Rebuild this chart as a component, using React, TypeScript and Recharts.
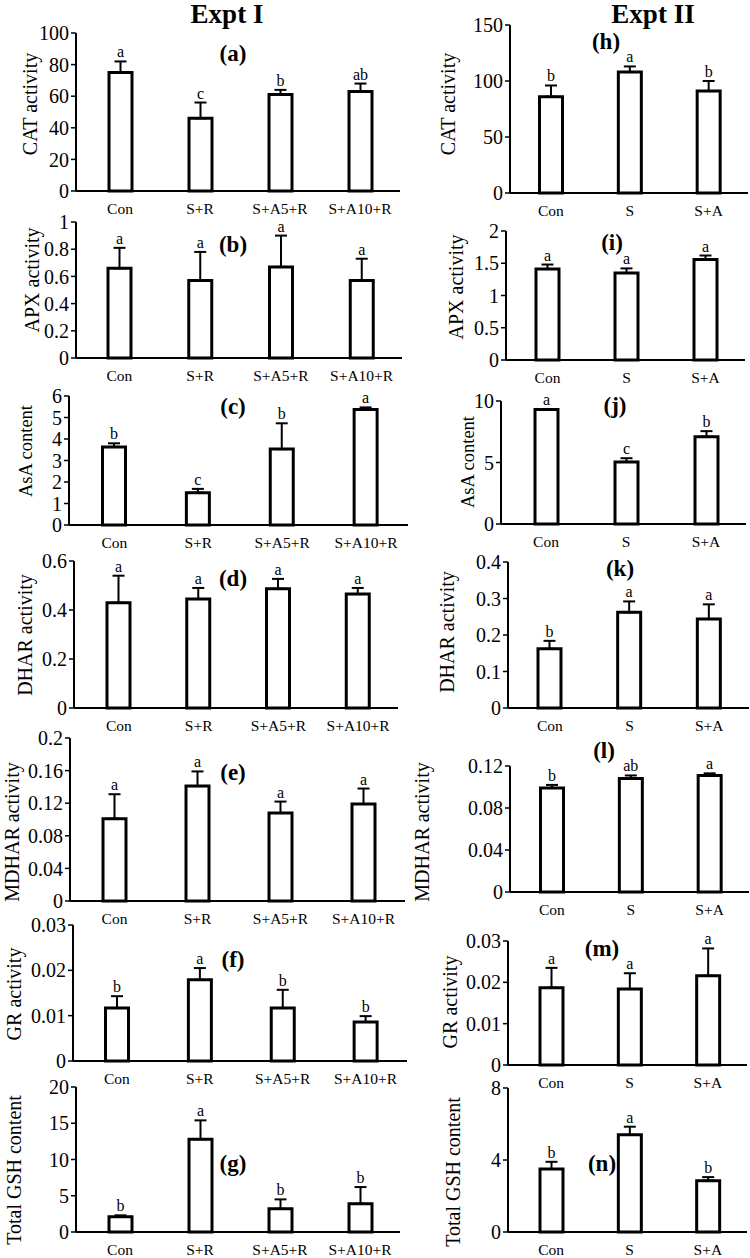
import React from "react";
import { BarChart, Bar, XAxis, YAxis, ErrorBar, LabelList } from "recharts";

const FONT = '"Liberation Serif", "Times New Roman", Times, serif';

const groupsI = ["Con", "S+R", "S+A5+R", "S+A10+R"];
const groupsII = ["Con", "S", "S+A"];

// Expt I
const catI = [75, 46, 61, 63];
const catErrI = [7, 10, 3, 5];
const catSigI = ["a", "c", "b", "ab"];
const catTicksI = [0, 20, 40, 60, 80, 100];

const apxI = [0.66, 0.57, 0.67, 0.57];
const apxErrI = [0.15, 0.21, 0.23, 0.16];
const apxSigI = ["a", "a", "a", "a"];
const apxTicksI = [0, 0.2, 0.4, 0.6, 0.8, 1];

const asaI = [3.63, 1.5, 3.53, 5.37];
const asaErrI = [0.17, 0.18, 1.2, 0.1];
const asaSigI = ["b", "c", "b", "a"];
const asaTicksI = [0, 1, 2, 3, 4, 5, 6];

const dharI = [0.43, 0.445, 0.487, 0.465];
const dharErrI = [0.11, 0.045, 0.04, 0.025];
const dharSigI = ["a", "a", "a", "a"];
const dharTicksI = [0, 0.2, 0.4, 0.6];

const mdharI = [0.101, 0.141, 0.108, 0.119];
const mdharErrI = [0.03, 0.018, 0.014, 0.019];
const mdharSigI = ["a", "a", "a", "a"];
const mdharTicksI = [0, 0.04, 0.08, 0.12, 0.16, 0.2];

const grI = [0.0117, 0.0179, 0.0117, 0.0086];
const grErrI = [0.0026, 0.0026, 0.004, 0.0013];
const grSigI = ["b", "a", "b", "b"];
const grTicksI = [0, 0.01, 0.02, 0.03];

const gshI = [2.1, 12.8, 3.2, 3.9];
const gshErrI = [0.2, 2.6, 1.3, 2.3];
const gshSigI = ["b", "a", "b", "b"];
const gshTicksI = [0, 5, 10, 15, 20];

// Expt II
const catII = [86, 108, 91];
const catErrII = [10, 5, 9];
const catSigII = ["b", "a", "b"];
const catTicksII = [0, 50, 100, 150];

const apxII = [1.41, 1.35, 1.56];
const apxErrII = [0.07, 0.07, 0.06];
const apxSigII = ["a", "a", "a"];
const apxTicksII = [0, 0.5, 1, 1.5, 2];

const asaII = [9.3, 5.05, 7.1];
const asaErrII = [0.05, 0.3, 0.45];
const asaSigII = ["a", "c", "b"];
const asaTicksII = [0, 5, 10];

const dharII = [0.162, 0.262, 0.244];
const dharErrII = [0.022, 0.03, 0.04];
const dharSigII = ["b", "a", "a"];
const dharTicksII = [0, 0.1, 0.2, 0.3, 0.4];

const mdharII = [0.099, 0.108, 0.111];
const mdharErrII = [0.003, 0.003, 0.002];
const mdharSigII = ["b", "ab", "a"];
const mdharTicksII = [0, 0.04, 0.08, 0.12];

const grII = [0.0187, 0.0184, 0.0216];
const grErrII = [0.0048, 0.0038, 0.0066];
const grSigII = ["a", "a", "a"];
const grTicksII = [0, 0.01, 0.02, 0.03];

const gshII = [3.5, 5.4, 2.85];
const gshErrII = [0.4, 0.45, 0.2];
const gshSigII = ["b", "a", "b"];
const gshTicksII = [0, 4, 8];

type PanelData = {
  tag: string;
  ylabel: string;
  groups: string[];
  mean: number[];
  err: number[];
  sig: string[];
  ticks: number[];
};

const panels: PanelData[] = [
  { tag: "(a)", ylabel: "CAT activity", groups: groupsI, mean: catI, err: catErrI, sig: catSigI, ticks: catTicksI },
  { tag: "(b)", ylabel: "APX activity", groups: groupsI, mean: apxI, err: apxErrI, sig: apxSigI, ticks: apxTicksI },
  { tag: "(c)", ylabel: "AsA content", groups: groupsI, mean: asaI, err: asaErrI, sig: asaSigI, ticks: asaTicksI },
  { tag: "(d)", ylabel: "DHAR activity", groups: groupsI, mean: dharI, err: dharErrI, sig: dharSigI, ticks: dharTicksI },
  { tag: "(e)", ylabel: "MDHAR activity", groups: groupsI, mean: mdharI, err: mdharErrI, sig: mdharSigI, ticks: mdharTicksI },
  { tag: "(f)", ylabel: "GR activity", groups: groupsI, mean: grI, err: grErrI, sig: grSigI, ticks: grTicksI },
  { tag: "(g)", ylabel: "Total GSH content", groups: groupsI, mean: gshI, err: gshErrI, sig: gshSigI, ticks: gshTicksI },
  { tag: "(h)", ylabel: "CAT activity", groups: groupsII, mean: catII, err: catErrII, sig: catSigII, ticks: catTicksII },
  { tag: "(i)", ylabel: "APX activity", groups: groupsII, mean: apxII, err: apxErrII, sig: apxSigII, ticks: apxTicksII },
  { tag: "(j)", ylabel: "AsA content", groups: groupsII, mean: asaII, err: asaErrII, sig: asaSigII, ticks: asaTicksII },
  { tag: "(k)", ylabel: "DHAR activity", groups: groupsII, mean: dharII, err: dharErrII, sig: dharSigII, ticks: dharTicksII },
  { tag: "(l)", ylabel: "MDHAR activity", groups: groupsII, mean: mdharII, err: mdharErrII, sig: mdharSigII, ticks: mdharTicksII },
  { tag: "(m)", ylabel: "GR activity", groups: groupsII, mean: grII, err: grErrII, sig: grSigII, ticks: grTicksII },
  { tag: "(n)", ylabel: "Total GSH content", groups: groupsII, mean: gshII, err: gshErrII, sig: gshSigII, ticks: gshTicksII },
];

// where each panel sits on the page (pixels)
type Box = {
  axisX: number; bandL: number; bandR: number; top: number; zero: number;
  labX: number; labY: number; labSize: number; tagX: number; tagY: number;
};

const boxes: Box[] = [
  { axisX: 76, bandL: 80, bandR: 400, top: 33, zero: 191, labX: 30, labY: 104, labSize: 20, tagX: 233, tagY: 53 },
  { axisX: 76, bandL: 79, bandR: 402, top: 222, zero: 358, labX: 32, labY: 280, labSize: 20, tagX: 233, tagY: 244 },
  { axisX: 69, bandL: 72.5, bandR: 408, top: 396, zero: 525, labX: 26, labY: 451, labSize: 18.5, tagX: 233, tagY: 406 },
  { axisX: 74, bandL: 79, bandR: 398, top: 561, zero: 708, labX: 25, labY: 635, labSize: 20, tagX: 233, tagY: 578 },
  { axisX: 70, bandL: 73, bandR: 405, top: 738, zero: 901, labX: 12, labY: 832, labSize: 20, tagX: 233, tagY: 772 },
  { axisX: 73, bandL: 75.5, bandR: 407, top: 925, zero: 1061, labX: 14, labY: 994, labSize: 20, tagX: 233, tagY: 959 },
  { axisX: 76, bandL: 80, bandR: 400, top: 1087, zero: 1232, labX: 14, labY: 1170, labSize: 20, tagX: 233, tagY: 1163 },
  { axisX: 510, bandL: 511.5, bandR: 748, top: 25, zero: 193, labX: 448, labY: 104, labSize: 20, tagX: 606, tagY: 41 },
  { axisX: 506, bandL: 508, bandR: 745, top: 231, zero: 360, labX: 456, labY: 287, labSize: 20, tagX: 612, tagY: 242 },
  { axisX: 501, bandL: 506, bandR: 746, top: 401, zero: 524, labX: 468, labY: 462, labSize: 18.5, tagX: 615, tagY: 405 },
  { axisX: 508, bandL: 510, bandR: 749, top: 562, zero: 708, labX: 447, labY: 632, labSize: 20, tagX: 620, tagY: 568 },
  { axisX: 510, bandL: 512.5, bandR: 749, top: 766, zero: 892, labX: 422, labY: 832, labSize: 20, tagX: 604, tagY: 750 },
  { axisX: 508, bandL: 512, bandR: 747, top: 941, zero: 1065, labX: 450, labY: 1002, labSize: 20, tagX: 602, tagY: 948 },
  { axisX: 508, bandL: 512, bandR: 747, top: 1088, zero: 1232, labX: 453, labY: 1172, labSize: 20, tagX: 602, tagY: 1163 },
];

const YW = 45;
const MT = 22;
const XH = 30;

const Panel = ({ p, b }: { p: PanelData; b: Box }) => {
  const data = p.groups.map((g, i) => ({
    name: g,
    mean: p.mean[i],
    range: [0, p.err[i]],
    sig: p.sig[i],
  }));
  const width = YW + (b.bandR - b.axisX) + 2;
  const height = MT + (b.zero - b.top) + XH;

  const sigLabel = (props: any) => {
    const vb = props.viewBox ?? props;
    const i = props.index;
    const h = Math.abs(vb.height);
    const topY = Math.min(vb.y, vb.y + vb.height);
    const ey = topY - (p.err[i] * h) / p.mean[i];
    return (
      <text x={vb.x + vb.width / 2} y={ey - 4} textAnchor="middle" fontSize={16} fontFamily={FONT} fill="#000">
        {props.value}
      </text>
    );
  };

  return (
    <>
      <div style={{ position: "absolute", left: b.axisX - YW, top: b.top - MT }}>
        <BarChart width={width} height={height} data={data} margin={{ top: MT, right: 2, bottom: 0, left: 0 }}>
          <XAxis
            dataKey="name"
            height={XH}
            interval={0}
            tickLine={false}
            tickSize={0}
            tickMargin={12}
            padding={{ left: b.bandL - b.axisX, right: 0 }}
            axisLine={{ stroke: "#000", strokeWidth: 2 }}
            tick={{ fill: "#000", fontSize: 15.5, fontFamily: FONT }}
          />
          <YAxis
            width={YW}
            type="number"
            domain={[0, p.ticks[p.ticks.length - 1]]}
            ticks={p.ticks}
            interval={0}
            tickSize={5}
            tickMargin={2}
            axisLine={{ stroke: "#000", strokeWidth: 2 }}
            tickLine={{ stroke: "#000", strokeWidth: 1.5 }}
            tick={{ fill: "#000", fontSize: 20, fontFamily: FONT }}
          />
          <Bar dataKey="mean" fill="#fff" stroke="#000" strokeWidth={3} barSize={23} isAnimationActive={false}>
            <ErrorBar dataKey="range" width={6} stroke="#000" strokeWidth={2} direction="y" isAnimationActive={false} />
            <LabelList dataKey="sig" content={sigLabel} />
          </Bar>
        </BarChart>
      </div>
      <div
        style={{
          position: "absolute",
          left: b.labX,
          top: b.labY,
          transform: "translate(-50%, -50%) rotate(-90deg)",
          whiteSpace: "nowrap",
          fontFamily: FONT,
          fontSize: b.labSize,
          lineHeight: 1,
          color: "#000",
        }}
      >
        {p.ylabel}
      </div>
      <div
        style={{
          position: "absolute",
          left: b.tagX,
          top: b.tagY,
          transform: "translate(-50%, -50%)",
          whiteSpace: "nowrap",
          fontFamily: FONT,
          fontWeight: "bold",
          fontSize: 23,
          lineHeight: 1,
          color: "#000",
        }}
      >
        {p.tag}
      </div>
    </>
  );
};

const titleStyle: React.CSSProperties = {
  position: "absolute",
  transform: "translate(-50%, -50%)",
  fontFamily: FONT,
  fontWeight: "bold",
  fontSize: 27,
  lineHeight: 1,
  whiteSpace: "nowrap",
  color: "#000",
};

export default function App() {
  return (
    <div
      style={{
        position: "absolute",
        left: 0,
        top: 0,
        width: 750,
        height: 1258,
        overflow: "hidden",
        background: "#fff",
      }}
    >
      {panels.map((p, i) => (
        <Panel key={p.tag} p={p} b={boxes[i]} />
      ))}
      <div style={{ ...titleStyle, left: 227, top: 14 }}>Expt I</div>
      <div style={{ ...titleStyle, left: 653, top: 14 }}>Expt II</div>
    </div>
  );
}
